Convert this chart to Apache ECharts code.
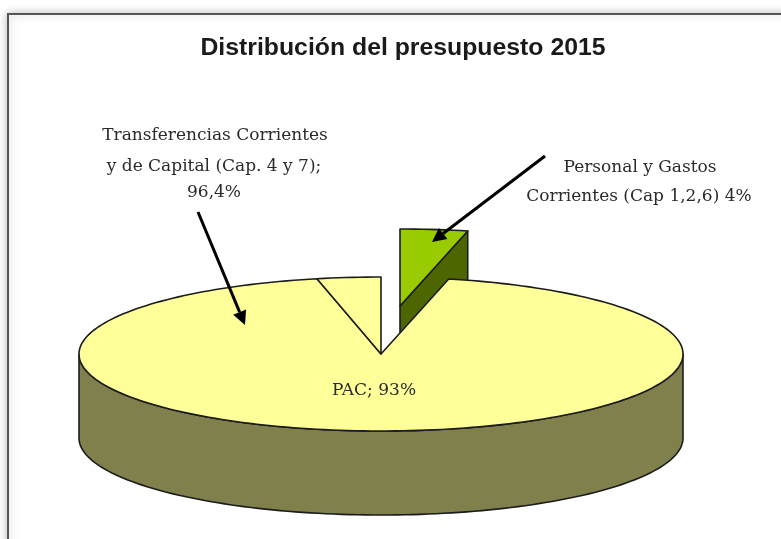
<!DOCTYPE html>
<html><head><meta charset="utf-8">
<style>html,body{margin:0;padding:0;background:#fff}#c{width:781px;height:539px}</style>
<script src="https://cdn.jsdelivr.net/npm/echarts@6/dist/echarts.min.js"></script>
</head><body><div id="c"></div>
<script>
const titleText = 'Distribución del presupuesto 2015';
const sliceNames = ['Personal y Gastos Corrientes', 'PAC', 'Transferencias Corrientes y de Capital (resto)'];
const sliceValues = [3.6, 93, 3.4];
const topColors = ['#99CC00', '#FFFF99', '#FFFF99'];
const sideColors = ['#4D6600', '#80804D', '#80804D'];
const explodeX = [19, 0, 0];
const explodeY = [-48, 0, 0];
const labelLines = [
  ['Transferencias Corrientes', 215, 136],
  ['y de Capital (Cap. 4 y 7);', 214, 167],
  ['96,4%', 214, 193],
  ['Personal y Gastos', 640, 168],
  ['Corrientes (Cap 1,2,6) 4%', 639, 197],
  ['PAC; 93%', 374, 391]
];
const arrows = [
  [545, 156, 432, 242],
  [198, 212, 245, 325]
];

const CX = 381, CY = 354, RX = 302, RY = 77, DEPTH = 84, STROKE = '#1c1c1c';
const total = sliceValues.reduce((a, b) => a + b, 0);
function pt(cx, cy, deg) {
  const r = deg * Math.PI / 180;
  return [cx + RX * Math.sin(r), cy - RY * Math.cos(r)];
}
function arc(cx, cy, a, b) {
  const out = [], n = Math.max(2, Math.ceil(Math.abs(b - a) / 1.5));
  for (let i = 0; i <= n; i++) out.push(pt(cx, cy, a + (b - a) * i / n));
  return out;
}
function poly(points, fill) {
  return { type: 'polygon', shape: { points },
    style: { fill, stroke: STROKE, lineWidth: 1.6, lineJoin: 'round' } };
}
function renderSlice(params, api) {
  const i = params.dataIndex;
  let before = 0;
  for (let k = 0; k < i; k++) before += sliceValues[k];
  const t0 = before / total * 360, t1 = (before + api.value(0)) / total * 360;
  const cx = CX + explodeX[i], cy = CY + explodeY[i];
  const children = [];
  const a = Math.max(t0, 90), b = Math.min(t1, 270);
  if (b > a) {
    const top = arc(cx, cy, a, b);
    const bottom = arc(cx, cy + DEPTH, b, a);
    children.push(poly(top.concat(bottom), sideColors[i]));
  }
  if (t1 < 180) {
    const p = pt(cx, cy, t1);
    children.push(poly([[cx, cy], p, [p[0], p[1] + DEPTH], [cx, cy + DEPTH]], sideColors[i]));
  }
  children.push(poly([[cx, cy]].concat(arc(cx, cy, t0, t1)), topColors[i]));
  return { type: 'group', children };
}
function arrowEl(a) {
  const [x0, y0, x1, y1] = a;
  const L = Math.hypot(x1 - x0, y1 - y0), ux = (x1 - x0) / L, uy = (y1 - y0) / L;
  const h = 14, w = 7;
  const bx = x1 - ux * h, by = y1 - uy * h;
  return [
    { type: 'line', z: 20, shape: { x1: x0, y1: y0, x2: bx, y2: by }, style: { stroke: '#000', lineWidth: 3 } },
    { type: 'polygon', z: 20, shape: { points: [[x1, y1], [bx - uy * w, by + ux * w], [bx + uy * w, by - ux * w]] }, style: { fill: '#000' } }
  ];
}
const chart = echarts.init(document.getElementById('c'), null, { renderer: 'canvas' });
chart.setOption({
  animation: false,
  backgroundColor: '#fff',
  title: {
    text: titleText, left: 398, top: 31, textAlign: 'center',
    textStyle: { fontFamily: 'Liberation Sans', fontWeight: 'bold', fontSize: 24.8, color: '#1a1a1a' }
  },
  graphic: [
    { type: 'rect', z: -10, shape: { x: 8, y: 14, width: 900, height: 700 },
      style: { fill: '#fff', stroke: '#555', lineWidth: 2, shadowBlur: 8, shadowColor: 'rgba(0,0,0,0.25)' } }
  ].concat(arrows.flatMap(arrowEl)).concat(labelLines.map(l => ({
    type: 'text', z: 30, x: l[1], y: l[2],
    style: { text: l[0], fill: '#2a2a2a', font: '17px "DejaVu Serif"', textAlign: 'center', textVerticalAlign: 'middle' }
  }))),
  series: [{
    type: 'custom', coordinateSystem: 'none', silent: true, clip: false,
    renderItem: renderSlice,
    data: sliceValues.map((v, i) => ({ name: sliceNames[i], value: [v] }))
  }]
});
</script></body></html>
